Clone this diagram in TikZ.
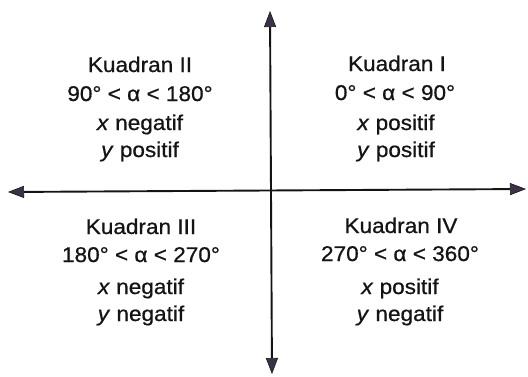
\documentclass[tikz,border=0pt]{standalone}
\usepackage{fontspec}
\setmainfont{Liberation Sans}[FakeStretch=1.06,FakeBold=0.7]
\usetikzlibrary{arrows.meta}
\definecolor{ink}{RGB}{20,20,22}
\definecolor{headfill}{RGB}{60,50,70}
\tikzset{
  lbl/.style={anchor=base, inner sep=0pt, text=ink, font=\fontsize{21.3}{24}\selectfont},
  axis/.style={draw=ink, line width=1.9pt,
    arrows={Triangle[length=16pt,width=12pt,fill=headfill,color=ink,line width=0.6pt]-Triangle[length=16pt,width=12pt,fill=headfill,color=ink,line width=0.6pt]}}
}
\begin{document}
\begin{tikzpicture}[x=1pt,y=-1pt]
\useasboundingbox (0,0) rectangle (528,376);
\fill[white] (0,0) rectangle (528,376);
% axes
\coordinate (top) at (270,11);
\coordinate (bot) at (272,374);
\coordinate (lft) at (8,192);
\coordinate (rgt) at (526,189);
\draw[axis] (bot) -- (top);
\draw[axis] (lft) -- (rgt);
% Quadrant II
\node[lbl] (q2a) at (140,72) {Kuadran II};
\node[lbl] (q2b) at (140,101) {90° < α < 180°};
\node[lbl] (q2c) at (140,130) {\textit{x} negatif};
\node[lbl] (q2d) at (140,157) {\textit{y} positif};
% Quadrant I
\node[lbl] (q1a) at (397,71) {Kuadran I};
\node[lbl] (q1b) at (395,100) {0° < α < 90°};
\node[lbl] (q1c) at (396,130) {\textit{x} positif};
\node[lbl] (q1d) at (396,157) {\textit{y} positif};
% Quadrant III
\node[lbl] (q3a) at (141,234) {Kuadran III};
\node[lbl] (q3b) at (141,262) {180° < α < 270°};
\node[lbl] (q3c) at (141,294) {\textit{x} negatif};
\node[lbl] (q3d) at (141,321) {\textit{y} negatif};
% Quadrant IV
\node[lbl] (q4a) at (401,233) {Kuadran IV};
\node[lbl] (q4b) at (400,261) {270° < α < 360°};
\node[lbl] (q4c) at (400,294) {\textit{x} positif};
\node[lbl] (q4d) at (400,321) {\textit{y} negatif};
\end{tikzpicture}
\end{document}
